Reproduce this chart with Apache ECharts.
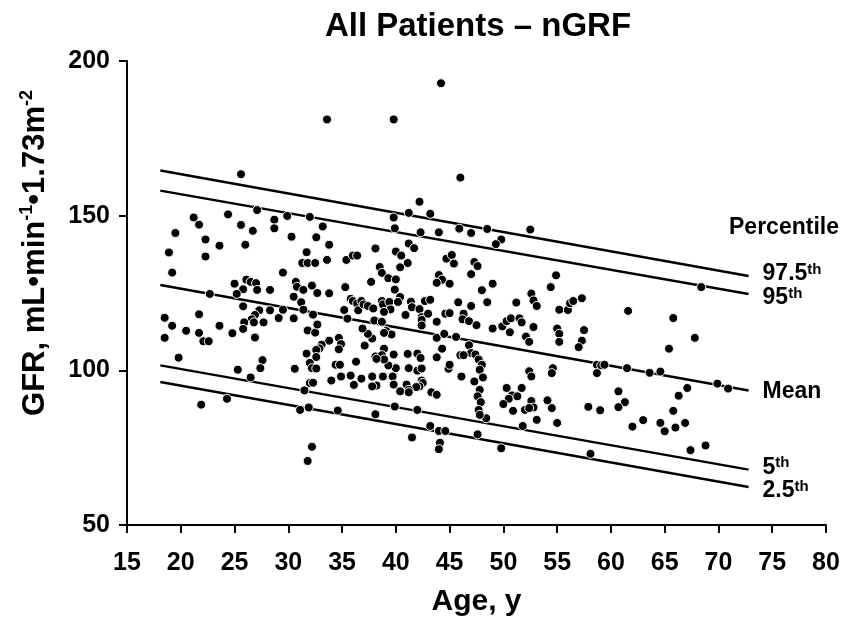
<!DOCTYPE html>
<html>
<head>
<meta charset="utf-8">
<title>All Patients – nGRF</title>
<script src="https://cdn.jsdelivr.net/npm/echarts@6/dist/echarts.min.js"></script>
<style>
  html, body { margin: 0; padding: 0; background: #fff; }
  #chart { width: 847px; height: 622px; }
</style>
</head>
<body>
<div id="chart"></div>
<script>
// age (y) vs GFR
const ptsUnder25 = [
  [21.2, 149.4], [21.7, 147.1], [19.5, 144.4], [22.3, 142.3], [24.4, 150.4],
  [23.6, 140.3], [18.9, 138.1], [22.3, 136.8], [19.2, 131.6], [22.7, 124.7],
  [18.5, 117.0], [19.2, 114.4], [21.7, 118.1], [20.5, 112.8], [21.7, 112.1],
  [23.6, 114.4], [24.8, 112.0], [18.5, 110.5], [22.1, 109.4], [22.6, 109.4],
  [19.8, 104.1], [21.9, 88.9], [24.3, 90.8]
]
const pts25to34 = [
  [25.6, 163.4], [25.6, 147.0], [26.7, 145.1], [27.1, 151.8], [28.7, 148.7],
  [28.7, 145.9], [29.9, 149.9], [32.0, 149.6], [33.2, 146.5], [30.3, 143.2],
  [32.6, 143.0], [33.6, 181.1], [26.0, 140.6], [33.8, 140.6], [31.7, 138.2],
  [31.3, 134.7], [31.8, 134.7], [32.5, 134.7], [33.6, 135.7], [29.5, 131.6],
  [25.0, 128.0], [26.1, 129.3], [26.5, 128.6], [27.0, 128.2], [25.8, 126.2],
  [25.2, 124.7], [27.1, 126.0], [28.3, 126.0], [25.8, 120.7], [30.7, 128.6],
  [30.8, 127.0], [31.4, 126.0], [32.2, 127.4], [32.7, 125.0], [33.8, 124.9],
  [30.5, 123.8], [31.2, 122.0], [31.4, 119.6], [32.3, 118.0], [29.5, 119.6],
  [29.1, 116.9], [30.5, 116.8], [28.3, 119.4], [27.3, 119.4], [26.9, 117.9],
  [26.6, 116.5], [27.7, 115.5], [26.8, 115.5], [25.9, 115.5], [25.8, 113.4],
  [31.8, 112.9], [32.5, 112.2], [32.7, 114.8], [33.8, 109.6], [33.1, 108.3],
  [32.9, 107.1], [32.6, 106.6], [34.7, 110.5], [34.9, 108.5], [34.7, 106.8],
  [31.7, 105.4], [32.6, 104.3], [32.0, 102.4], [32.2, 100.7], [32.6, 100.6],
  [27.6, 103.3], [27.4, 100.7], [25.3, 100.2], [26.5, 97.7], [30.6, 100.5],
  [32.0, 95.9], [32.3, 96.0], [34.0, 96.7], [34.9, 98.0], [34.4, 101.8],
  [34.8, 101.8], [26.9, 110.6], [31.5, 93.5], [31.1, 87.2], [31.9, 88.0],
  [34.6, 87.0], [32.2, 75.3], [31.8, 70.7]
]
const pts35to44 = [
  [35.4, 135.7], [36.0, 137.1], [36.4, 137.1], [35.3, 126.9], [35.8, 123.1],
  [36.0, 122.4], [36.4, 121.6], [35.2, 119.5], [35.5, 116.7], [36.5, 119.4],
  [35.8, 98.3], [36.1, 95.1], [36.3, 102.8],
  [44.2, 192.8], [39.8, 181.1], [42.2, 154.5], [39.8, 149.4], [41.2, 150.9],
  [43.2, 150.6], [39.9, 145.9], [42.3, 144.6], [44.0, 144.6],
  [41.2, 141.0], [41.7, 139.5], [38.1, 139.4], [40.0, 138.4], [40.5, 137.1],
  [41.1, 134.7], [40.4, 133.3], [38.5, 133.4], [38.7, 131.5], [39.3, 129.8],
  [40.0, 129.4], [37.7, 128.6], [39.9, 126.1], [40.4, 123.7], [36.8, 122.4],
  [37.0, 121.3], [37.4, 120.8], [37.9, 120.0], [38.7, 122.4], [38.8, 121.3],
  [39.4, 122.1], [39.5, 119.7], [40.2, 122.1], [38.9, 118.9], [38.0, 116.1],
  [38.7, 115.7], [41.4, 122.2], [41.5, 120.4], [42.2, 119.8], [42.7, 122.4],
  [43.2, 122.8], [40.9, 117.9], [42.4, 117.2], [42.4, 116.3], [42.4, 114.5],
  [43.0, 118.3], [43.8, 115.7], [44.6, 118.3], [44.0, 130.8], [44.3, 129.3],
  [43.8, 128.3], [44.7, 136.1], [43.8, 110.5], [44.5, 111.8], [44.3, 107.0],
  [43.8, 104.2], [41.1, 105.3], [42.0, 105.4], [42.3, 104.0], [41.2, 100.7],
  [42.0, 99.9], [42.4, 100.6], [42.4, 96.7], [42.5, 95.9], [42.2, 94.8],
  [41.9, 94.6], [41.0, 95.4], [41.2, 93.7], [40.4, 93.2], [41.2, 92.9],
  [40.0, 100.7], [39.7, 98.0], [39.3, 101.6], [39.8, 105.1], [38.9, 107.0],
  [38.1, 104.5], [38.7, 104.9], [38.9, 103.5], [38.2, 103.7], [38.8, 98.0],
  [39.8, 95.4], [39.1, 112.7], [39.6, 111.6], [38.9, 112.1], [37.8, 110.3],
  [37.4, 111.8], [36.9, 113.5], [37.1, 108.0], [37.8, 98.0], [38.2, 95.1],
  [37.8, 94.8], [36.8, 97.3], [36.1, 95.3], [43.3, 92.9], [43.8, 92.1],
  [39.9, 88.3], [42.0, 87.2], [38.1, 85.8], [43.2, 82.0], [44.0, 80.4],
  [44.6, 80.4], [41.5, 78.3], [44.1, 76.6], [44.0, 74.5], [44.9, 100.5]
]
const pts45to54 = [
  [46.0, 162.3], [45.9, 145.8], [47.0, 144.4], [48.5, 145.7], [52.5, 145.5],
  [49.8, 142.3], [49.3, 140.8],
  [45.0, 128.0], [45.2, 137.3], [45.4, 134.5], [47.3, 135.0], [47.6, 133.7],
  [47.0, 131.1], [49.0, 128.0], [48.0, 125.9], [45.0, 118.5], [45.8, 122.0],
  [46.3, 118.3], [46.2, 116.5], [46.8, 115.9], [47.0, 120.8], [47.5, 114.6],
  [48.5, 122.0], [49.0, 113.5], [49.9, 114.2], [50.3, 115.9], [50.7, 116.8],
  [50.6, 112.3], [51.2, 121.9], [51.5, 116.8], [51.7, 115.5], [52.8, 114.0],
  [52.1, 110.9], [52.4, 109.2], [52.6, 124.8], [52.8, 122.6], [53.1, 120.8],
  [54.9, 130.7], [54.4, 126.9], [45.6, 110.8], [46.8, 108.1], [47.0, 105.6],
  [47.4, 105.1], [47.7, 103.5], [46.0, 104.9], [46.3, 104.9], [48.0, 101.8],
  [47.8, 100.2], [48.1, 97.7], [47.8, 93.7], [47.6, 91.6], [47.9, 89.7],
  [48.4, 84.5], [47.3, 96.4], [46.1, 98.0], [45.0, 101.8],
  [50.3, 94.3], [50.8, 91.9], [50.5, 90.8], [50.0, 89.1], [50.9, 86.9],
  [51.7, 94.3], [51.3, 91.6], [52.0, 87.2], [52.6, 90.1], [52.8, 88.0],
  [52.4, 87.8], [54.1, 90.3], [54.5, 87.8], [54.6, 100.7], [54.5, 99.1],
  [52.4, 99.7], [52.6, 98.0], [53.1, 84.0], [47.7, 87.2], [47.8, 85.6],
  [51.8, 82.0], [47.6, 79.3], [49.8, 74.8]
]
const pts55plus = [
  [55.0, 83.0], [55.2, 119.6], [55.0, 113.5], [55.2, 111.8], [55.2, 109.2],
  [56.0, 119.5], [56.2, 121.7], [56.5, 122.4], [57.3, 123.3], [57.5, 113.0],
  [57.3, 109.6], [57.0, 107.5], [68.4, 126.9], [61.6, 119.2], [65.8, 116.9],
  [67.8, 110.5], [65.4, 107.0], [58.7, 101.8], [59.1, 101.6], [58.7, 99.1],
  [59.4, 101.8], [61.5, 100.7], [63.6, 99.2], [64.6, 99.6], [69.9, 95.7],
  [70.9, 94.1], [67.1, 94.3], [66.3, 91.8], [60.7, 93.2], [61.3, 89.7],
  [60.7, 88.1], [57.9, 88.2], [59.0, 87.1], [65.8, 86.9], [63.0, 83.9],
  [62.0, 81.8], [64.6, 83.0], [65.0, 80.3], [66.0, 81.5], [66.9, 83.0],
  [67.4, 74.2], [68.8, 75.7], [58.1, 73.0]
]

// regression lines: value at start age and end age
const lineAges = [18.1, 72.8]
const p975Line = [164.6, 130.5]
const p95Line = [158.1, 124.7]
const meanLine = [127.6, 93.5]
const p5Line = [101.6, 67.9]
const p25Line = [96.2, 62.3]
const lineLabels = ['{v|97.5}{s|th}', '{v|95}{s|th}', '{v|Mean}', '{v|5}{s|th}', '{v|2.5}{s|th}']
const labelShift = [-2, 4, 1, -2, 4]

const FONT = 'Liberation Sans, Arial, Helvetica, sans-serif'

const allPoints = [].concat(ptsUnder25, pts25to34, pts35to44, pts45to54, pts55plus)

function lineSeries(vals, idx) {
  return {
    type: 'line',
    data: lineAges.map((a, i) => [a, vals[i]]),
    symbol: 'none',
    silent: true,
    lineStyle: { color: '#000', width: 2.5 },
    endLabel: {
      show: true,
      distance: 14,
      offset: [0, labelShift[idx]],
      formatter: () => lineLabels[idx],
      rich: {
        v: { fontSize: 23, fontWeight: 'bold', fontFamily: FONT, color: '#000', lineHeight: 24 },
        s: { fontSize: 15, fontWeight: 'bold', fontFamily: FONT, color: '#000', verticalAlign: 'top', lineHeight: 14 }
      }
    },
    z: 1
  }
}

const chart = echarts.init(document.getElementById('chart'))
const option = {
  animation: false,
  backgroundColor: '#fff',
  title: {
    text: 'All Patients – nGRF',
    left: 473,
    textAlign: 'center',
    top: 5,
    textStyle: { fontSize: 33, fontWeight: 'bold', fontFamily: FONT, color: '#000' }
  },
  grid: { left: 127, right: 21, top: 61, bottom: 97, outerBoundsMode: 'none' },
  xAxis: {
    type: 'value',
    min: 15, max: 80, interval: 5,
    name: 'Age, y',
    nameLocation: 'middle',
    nameGap: 62,
    nameTextStyle: { fontSize: 30, fontWeight: 'bold', fontFamily: FONT, color: '#000' },
    axisLine: { onZero: false, lineStyle: { color: '#000', width: 2 } },
    axisTick: { inside: false, length: 8, lineStyle: { color: '#000', width: 2 } },
    axisLabel: { margin: 26, fontSize: 25, fontWeight: 'bold', fontFamily: FONT, color: '#000' },
    splitLine: { show: false }
  },
  yAxis: {
    type: 'value',
    min: 50, max: 200, interval: 50,
    axisLine: { show: true, onZero: false, lineStyle: { color: '#000', width: 2 } },
    axisTick: { show: true, inside: false, length: 8, lineStyle: { color: '#000', width: 2 } },
    axisLabel: { margin: 17, fontSize: 25, fontWeight: 'bold', fontFamily: FONT, color: '#000' },
    splitLine: { show: false }
  },
  graphic: [
    {
      type: 'text',
      x: 35, y: 253,
      rotation: Math.PI / 2,
      style: {
        text: '{a|GFR, mL•min}{s|-1}{a|•1.73m}{s|-2}',
        align: 'center', verticalAlign: 'middle',
        textAlign: 'center', textVerticalAlign: 'middle',
        fill: '#000',
        rich: {
          a: { fontSize: 31, fontWeight: 'bold', fontFamily: FONT, fill: '#000', lineHeight: 34 },
          s: { fontSize: 18, fontWeight: 'bold', fontFamily: FONT, fill: '#000', verticalAlign: 'top', lineHeight: 18 }
        }
      }
    },
    {
      type: 'text',
      x: 784, y: 228,
      style: {
        text: 'Percentile',
        align: 'center', verticalAlign: 'middle',
        textAlign: 'center', textVerticalAlign: 'middle',
        fill: '#000',
        font: 'bold 23px ' + FONT
      }
    }
  ],
  series: [
    lineSeries(p975Line, 0),
    lineSeries(p95Line, 1),
    lineSeries(meanLine, 2),
    lineSeries(p5Line, 3),
    lineSeries(p25Line, 4),
    {
      type: 'scatter',
      data: allPoints,
      symbol: 'circle',
      symbolSize: 9,
      itemStyle: { color: '#000', borderColor: '#fff', borderWidth: 1, opacity: 1 },
      z: 3
    }
  ]
}
chart.setOption(option)
</script>
</body>
</html>
